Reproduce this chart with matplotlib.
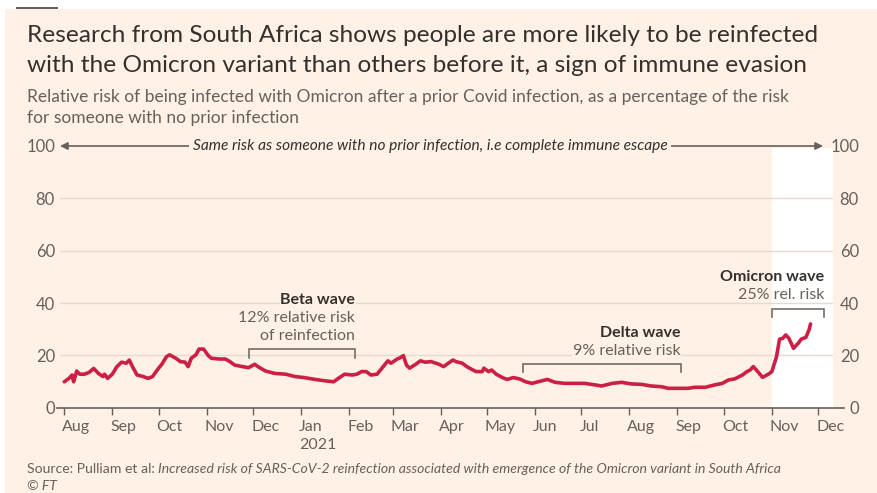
import matplotlib
matplotlib.use('Agg')
import matplotlib.pyplot as plt
import matplotlib.dates as mdates
import matplotlib.transforms as mtransforms
from matplotlib.patches import Rectangle, FancyArrowPatch
from matplotlib.lines import Line2D
import pandas as pd

# ---------------- data ----------------
start_date = '2020-08-01'
day_offsets = [0, 3, 5, 6, 8, 10, 13, 16, 19, 22, 25, 26, 28, 31, 34, 37, 40, 42, 44, 47,
               51, 54, 57, 60, 63, 66, 68, 72, 75, 78, 80, 82, 85, 87, 90, 93, 95, 100, 104, 107,
               110, 115, 119, 123, 125, 130, 136, 143, 149, 155, 162, 168, 174, 177, 181, 186, 189, 192, 195, 198,
               202, 206, 209, 211, 215, 217, 219, 221, 223, 227, 230, 233, 237, 242, 245, 248, 251, 253, 257, 260,
               263, 266, 270, 271, 274, 276, 279, 283, 286, 290, 294, 298, 302, 306, 312, 317, 323, 330, 336, 343,
               347, 354, 360, 366, 373, 379, 386, 390, 399, 403, 407, 414, 420, 425, 429, 433, 438, 441, 443, 445,
               447, 451, 455, 457, 460, 462, 464, 466, 468, 471, 474, 476, 479, 481, 482]
rel_risk = [9.9, 11.2, 12.5, 9.9, 14.0, 12.8, 12.8, 13.5, 15.0, 13.1, 11.9, 12.8, 11.2, 12.8, 15.7, 17.4, 17.0, 18.2, 15.7, 12.5,
            11.9, 11.2, 11.9, 14.4, 16.6, 19.5, 20.2, 18.9, 17.6, 17.4, 15.7, 18.9, 20.2, 22.4, 22.4, 19.9, 18.9, 18.6, 18.6, 17.6,
            16.3, 15.7, 15.3, 16.6, 15.7, 14.0, 13.1, 12.8, 11.9, 11.5, 10.8, 10.3, 9.9, 11.2, 12.8, 12.5, 12.8, 13.8, 13.8, 12.5,
            12.8, 15.7, 17.9, 17.0, 18.6, 19.1, 19.9, 16.3, 15.1, 16.6, 17.9, 17.4, 17.6, 16.6, 15.7, 17.0, 18.2, 17.6, 17.0, 15.7,
            14.7, 13.8, 13.8, 15.1, 13.8, 14.4, 12.8, 11.5, 10.8, 11.5, 11.0, 9.9, 9.3, 9.9, 10.8, 9.7, 9.3, 9.3, 9.3, 8.7,
            8.3, 9.3, 9.7, 9.1, 8.9, 8.3, 8.0, 7.4, 7.4, 7.4, 7.8, 7.8, 8.7, 9.3, 10.6, 11.0, 12.5, 13.8, 14.4, 15.7,
            14.4, 11.6, 12.9, 13.8, 19.5, 26.2, 26.5, 27.8, 26.5, 22.7, 24.6, 26.2, 26.9, 29.7, 32.0]

month_ticks = pd.date_range('2020-08-01', '2021-12-01', freq='MS')
month_labels = ['Aug', 'Sep', 'Oct', 'Nov', 'Dec', 'Jan', 'Feb', 'Mar', 'Apr', 'May',
                'Jun', 'Jul', 'Aug', 'Sep', 'Oct', 'Nov', 'Dec']
y_ticks = [0, 20, 40, 60, 80, 100]

wave_names = ['Beta wave', 'Delta wave', 'Omicron wave']
wave_notes = [['12% relative risk', 'of reinfection'], ['9% relative risk'], ['25% rel. risk']]
wave_start = ['2020-11-28', '2021-05-24', '2021-11-01']
wave_end = ['2021-02-05', '2021-09-03', '2021-12-05']

title_lines = ['Research from South Africa shows people are more likely to be reinfected',
               'with the Omicron variant than others before it, a sign of immune evasion']
subtitle_lines = ['Relative risk of being infected with Omicron after a prior Covid infection, as a percentage of the risk',
                  'for someone with no prior infection']
arrow_text = 'Same risk as someone with no prior infection, i.e complete immune escape'
source_plain = 'Source: Pulliam et al:'
source_italic = 'Increased risk of SARS-CoV-2 reinfection associated with emergence of the Omicron variant in South Africa'
copyright_text = '\u00a9 FT'

# ---------------- style ----------------
W, H = 878, 493
PEACH = '#FFF1E5'
INK = '#33302E'
GREY = '#66605C'
GRID = '#E6D9CE'
RED = '#CC1F45'
FONT = 'Lato'
plt.rcParams['font.family'] = [FONT, 'DejaVu Sans']


def fx(px):
    return px / W


def fy(py):
    return 1 - py / H


fig = plt.figure(figsize=(W / 100, H / 100), dpi=100, facecolor='white')
fig.patches.append(Rectangle((fx(5), 0), 1, fy(9), transform=fig.transFigure,
                             facecolor=PEACH, edgecolor='none', zorder=-10))

# axes: x from 60 px to 833 px, y 0 -> 407.7 px, 100 -> 146 px
ax_left, ax_right, ax_bottom, ax_top = 60, 833, 407.7, 146
ax = fig.add_axes([fx(ax_left), fy(ax_bottom), fx(ax_right - ax_left), (ax_bottom - ax_top) / H])
ax.set_zorder(5)
ax.set_facecolor('none')

start = pd.Timestamp(start_date)
dates = start + pd.to_timedelta(day_offsets, unit='D')
px_per_day = (818.3 - 64.3) / 487
x0 = start + pd.Timedelta(days=(ax_left - 64.3) / px_per_day)
x1 = start + pd.Timedelta(days=(ax_right - 64.3) / px_per_day)
ax.set_xlim(x0, x1)
ax.set_ylim(0, 100)

# white omicron band
ax.axvspan(pd.Timestamp(wave_start[2]), x1, ymin=0, ymax=0.991, facecolor='white', edgecolor='none', zorder=0)

for v in y_ticks[1:-1]:
    ax.axhline(v, color=GRID, lw=1, zorder=1)

ax.plot(dates, rel_risk, color=RED, lw=2.6, solid_joinstyle='round', solid_capstyle='round', zorder=4)

for s in ax.spines.values():
    s.set_visible(False)

# zero line
ax.add_line(Line2D([(57 - ax_left) / (ax_right - ax_left), (844 - ax_left) / (ax_right - ax_left)], [0, 0],
                   transform=ax.transAxes, color=GREY, lw=1.2, clip_on=False, zorder=3))

# x ticks
ax.set_xticks(month_ticks)
ax.set_xticklabels(month_labels)
ax.tick_params(axis='x', direction='out', length=5, width=1, color=GREY, pad=4,
               labelsize=11.5, labelcolor=GREY)
shift = mtransforms.ScaledTranslation(-2 / 100, 0, fig.dpi_scale_trans)
for lab in ax.get_xticklabels():
    lab.set_horizontalalignment('left')
    lab.set_transform(lab.get_transform() + shift)
ax.text(pd.Timestamp('2021-01-01'), -(445 - ax_bottom) / (ax_bottom - ax_top), '2021',
        transform=mtransforms.blended_transform_factory(ax.transData, ax.transAxes) + shift,
        ha='left', va='center', fontsize=11.5, color=GREY)

# y ticks both sides
ax.set_yticks(y_ticks)
ax.set_yticklabels([str(v) for v in y_ticks])
ax.tick_params(axis='y', length=0, labelsize=12, labelcolor=GREY, left=False, right=False,
               labelleft=True, labelright=True, pad=3.6)
for t in ax.yaxis.get_major_ticks():
    t.label2.set_horizontalalignment('right')
    t.label2.set_transform(t.label2.get_transform() + mtransforms.ScaledTranslation(21 / 100, 0, fig.dpi_scale_trans))

# arrow at 100
arrow_end = (823 - ax_left) / (ax_right - ax_left)
arr = FancyArrowPatch((0, 1), (arrow_end, 1), transform=ax.transAxes, arrowstyle='<|-|>',
                      mutation_scale=11, color=GREY, lw=1.2, clip_on=False, zorder=3,
                      shrinkA=0, shrinkB=0)
ax.add_patch(arr)
ax.text((430 - ax_left) / (ax_right - ax_left), 1, arrow_text, transform=ax.transAxes,
        ha='center', va='center', fontsize=11.2, style='italic', color=INK, zorder=5,
        bbox=dict(facecolor=PEACH, edgecolor='none', pad=2.5))

# wave brackets + labels
bracket_top = [22.4, 16.8, 37.9]
bracket_drop = 3.3
for i in range(3):
    xs = pd.Timestamp(wave_start[i])
    xe = pd.Timestamp(wave_end[i])
    yt = bracket_top[i]
    ax.plot([xs, xs, xe, xe], [yt - bracket_drop, yt, yt, yt - bracket_drop], color=GREY, lw=1.1,
            solid_joinstyle='miter', zorder=3, clip_on=False)
    notes = wave_notes[i]
    bb = dict(facecolor=PEACH, edgecolor='none', pad=0.5) if i < 2 else None
    ypos = yt + 5.0
    for line in reversed(notes):
        ax.text(xe, ypos, line, ha='right', va='center', fontsize=11.5, color=GREY, zorder=5, bbox=bb)
        ypos += 6.9
    ax.text(xe, ypos, wave_names[i], ha='right', va='center', fontsize=11.5, fontweight='bold',
            color=INK, zorder=5, bbox=bb)

# titles
fig.text(fx(27), fy(35), title_lines[0], ha='left', va='center', fontsize=17.6, color=INK)
fig.text(fx(27), fy(66), title_lines[1], ha='left', va='center', fontsize=17.6, color=INK)
fig.text(fx(27), fy(97), subtitle_lines[0], ha='left', va='center', fontsize=12.5, color=GREY)
fig.text(fx(27), fy(118), subtitle_lines[1], ha='left', va='center', fontsize=12.5, color=GREY)

# source
t1 = fig.text(fx(27), fy(469), source_plain, ha='left', va='center', fontsize=10.1, color=GREY)
fig.canvas.draw()
bb1 = t1.get_window_extent()
fig.text((bb1.x1 + 3.5) / W, fy(469), source_italic, ha='left', va='center', fontsize=10.1,
         style='italic', color=GREY)
fig.text(fx(27), fy(486), copyright_text, ha='left', va='center', fontsize=10.1, style='italic', color=GREY)

# top-left marker bar
fig.patches.append(Rectangle((fx(16), fy(9)), fx(42), 2 / H, transform=fig.transFigure,
                             facecolor=GREY, edgecolor='none', zorder=1))

fig.savefig('out.png', dpi=100, facecolor=fig.get_facecolor())
